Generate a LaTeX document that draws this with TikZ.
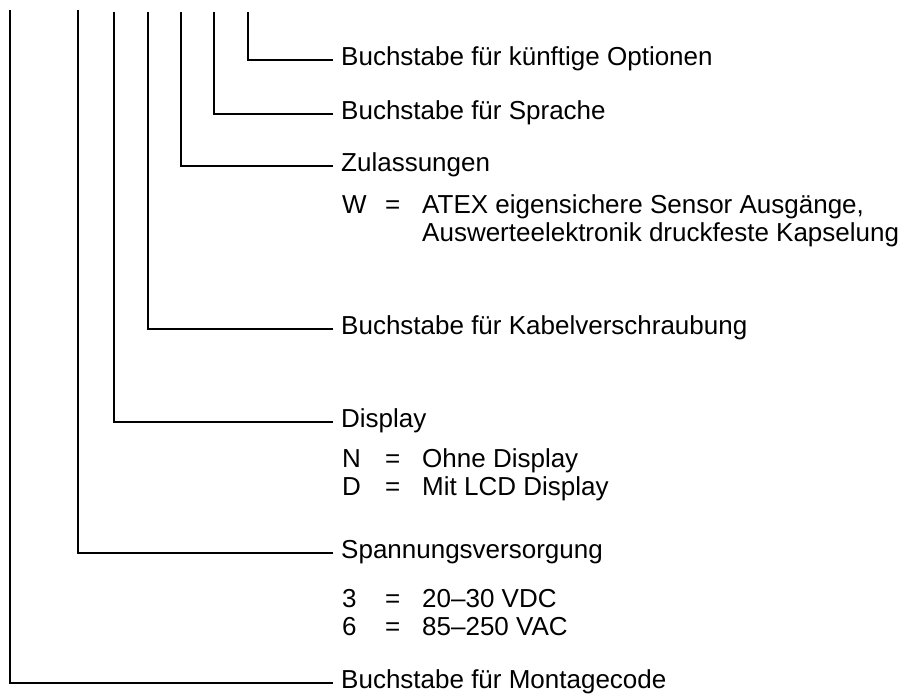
\documentclass[tikz,border=0pt]{standalone}
\usepackage{fontspec}
\setmainfont{Liberation Sans}
\usetikzlibrary{positioning}

\begin{document}
\begin{tikzpicture}[
    x=1pt, y=-1pt,
    every node/.style={inner sep=0pt, anchor=base west, font=\fontsize{26}{28}\selectfont},
    lead/.style={line width=2.2pt}
]
    \useasboundingbox (0,0) rectangle (918,697);

    % Top ends of the leads
    \coordinate (tmont) at (10,10);
    \coordinate (tspan) at (78,10);
    \coordinate (tdisp) at (114,12);
    \coordinate (tkab) at (148,12);
    \coordinate (tzul) at (181,12);
    \coordinate (tspr) at (214,12);
    \coordinate (topt) at (248,12);

    % Labels
    \node (opt) at (341,65) {Buchstabe für künftige Optionen};
    \node (spr) at (341,119) {Buchstabe für Sprache};
    \node (zul) at (341,171) {Zulassungen};
    \node (zulw) at (342,213) {\begin{tabular}[t]{@{}p{43pt}@{}p{37pt}@{}l@{}}
        W & = & ATEX eigensichere Sensor Ausgänge,\\
          &   & Auswerteelektronik druckfeste Kapselung
    \end{tabular}};
    \node (kab) at (341,334) {Buchstabe für Kabelverschraubung};
    \node (disp) at (341,427) {Display};
    \node (dispw) at (342,467) {\begin{tabular}[t]{@{}p{43pt}@{}p{37pt}@{}l@{}}
        N & = & Ohne Display\\
        D & = & Mit LCD Display
    \end{tabular}};
    \node (span) at (341,558) {Spannungsversorgung};
    \node (spanw) at (342,607) {\begin{tabular}[t]{@{}p{43pt}@{}p{37pt}@{}l@{}}
        3 & = & 20–30 VDC\\
        6 & = & 85–250 VAC
    \end{tabular}};
    \node (mont) at (341,688) {Buchstabe für Montagecode};

    % Leads
    \draw[lead] (topt) |- ([xshift=-8pt,yshift=5pt]opt.base west);
    \draw[lead] (tspr) |- ([xshift=-8pt,yshift=5pt]spr.base west);
    \draw[lead] (tzul) |- ([xshift=-8pt,yshift=5pt]zul.base west);
    \draw[lead] (tkab) |- ([xshift=-8pt,yshift=5pt]kab.base west);
    \draw[lead] (tdisp) |- ([xshift=-8pt,yshift=5pt]disp.base west);
    \draw[lead] (tspan) |- ([xshift=-8pt,yshift=5pt]span.base west);
    \draw[lead] (tmont) |- ([xshift=-8pt,yshift=5pt]mont.base west);
\end{tikzpicture}
\end{document}
